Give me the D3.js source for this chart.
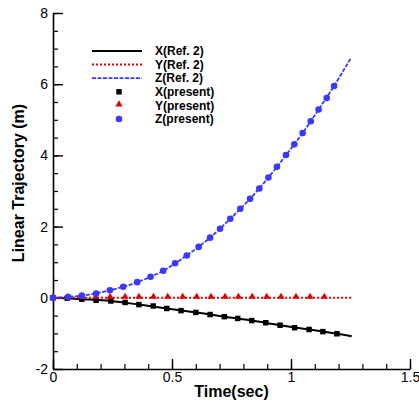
<!DOCTYPE html>
<html>
<head>
<meta charset="utf-8">
<script src="https://cdn.jsdelivr.net/npm/d3@7"></script>
<style>
  body { margin: 0; background: #fff; }
  svg { display: block; font-family: "Liberation Sans", Arial, sans-serif; }
</style>
</head>
<body>
<div id="chart"></div>
<script>
// tick values / labels
const xTicks = [0, 0.5, 1, 1.5];
const xTickLabels = ["0", "0.5", "1", "1.5"];
const yTicks = [-2, 0, 2, 4, 6, 8];
const yTickLabels = ["-2", "0", "2", "4", "6", "8"];

// Ref. 2 curves
const xRefT = [0, 0.121, 0.243, 0.361, 0.478, 0.600, 0.720, 0.835, 0.954, 1.076, 1.193, 1.255];
const xRefV = [0, -0.04, -0.09, -0.19, -0.30, -0.41, -0.53, -0.64, -0.77, -0.89, -1.01, -1.08];
const yRefT = [0, 0.6, 1.255];
const yRefV = [0, 0, 0];
const zRefT = [0, 0.121, 0.239, 0.354, 0.463, 0.562, 0.660, 0.745, 0.828, 0.905, 0.979, 1.049, 1.116, 1.181, 1.252];
const zRefV = [0, 0.06, 0.21, 0.44, 0.76, 1.19, 1.69, 2.22, 2.78, 3.38, 4.01, 4.63, 5.29, 5.95, 6.74];

// present results (markers)
const xPresT = [0, 0.06, 0.121, 0.181, 0.243, 0.303, 0.361, 0.421, 0.478, 0.538, 0.600, 0.660, 0.720, 0.776, 0.835, 0.894, 0.954, 1.015, 1.076, 1.134, 1.193];
const xPresV = [0, -0.01, -0.04, -0.07, -0.09, -0.13, -0.19, -0.23, -0.30, -0.36, -0.41, -0.47, -0.53, -0.58, -0.64, -0.70, -0.77, -0.84, -0.89, -0.95, -1.01];
const yPresT = [0, 0.06, 0.12, 0.18, 0.24, 0.303, 0.361, 0.422, 0.482, 0.545, 0.604, 0.664, 0.723, 0.779, 0.837, 0.898, 0.958, 1.021, 1.080, 1.140];
const yPresV = [0, 0, 0, 0, 0, 0, 0, 0, 0, 0, 0, 0, 0, 0, 0, 0, 0, 0, 0, 0];
const zPresT = [0, 0.064, 0.121, 0.181, 0.239, 0.295, 0.354, 0.410, 0.463, 0.513, 0.562, 0.612, 0.660, 0.702, 0.745, 0.787, 0.828, 0.867, 0.905, 0.941, 0.979, 1.014, 1.049, 1.083, 1.116, 1.150, 1.181];
const zPresV = [0, 0.02, 0.06, 0.12, 0.21, 0.31, 0.44, 0.59, 0.76, 0.97, 1.19, 1.43, 1.69, 1.94, 2.22, 2.50, 2.78, 3.07, 3.38, 3.68, 4.01, 4.31, 4.63, 4.96, 5.29, 5.61, 5.95];

const legendNames = ["X(Ref. 2)", "Y(Ref. 2)", "Z(Ref. 2)", "X(present)", "Y(present)", "Z(present)"];

const width = 419, height = 404;
const margin = {top: 13, right: 9, bottom: 35, left: 53};

const RED = "#e00000", BLUE = "#3838ff";

const svg = d3.select("#chart").append("svg")
    .attr("width", width)
    .attr("height", height);

const x = d3.scaleLinear().domain([0, 1.5]).range([margin.left, width - margin.right]);
const y = d3.scaleLinear().domain([-2, 8]).range([height - margin.bottom, margin.top]);

// minor ticks
svg.append("g")
    .attr("transform", "translate(0," + y(-2) + ")")
    .call(d3.axisBottom(x).tickValues(d3.range(0, 1.5001, 0.1)).tickSize(-5).tickFormat(""))
    .call(g => g.select(".domain").remove())
    .selectAll("line").attr("stroke-width", 1.2);
svg.append("g")
    .attr("transform", "translate(" + x(0) + ",0)")
    .call(d3.axisLeft(y).tickValues(d3.range(-2, 8.001, 0.5)).tickSize(-5).tickFormat(""))
    .call(g => g.select(".domain").remove())
    .selectAll("line").attr("stroke-width", 1.2);

// major axes
const xAxis = svg.append("g")
    .attr("transform", "translate(0," + y(-2) + ")")
    .call(d3.axisBottom(x).tickValues(xTicks).tickSize(-10).tickSizeOuter(0).tickPadding(3)
        .tickFormat((d, i) => xTickLabels[i]));
const yAxis = svg.append("g")
    .attr("transform", "translate(" + x(0) + ",0)")
    .call(d3.axisLeft(y).tickValues(yTicks).tickSize(-10).tickSizeOuter(0).tickPadding(5)
        .tickFormat((d, i) => yTickLabels[i]));

[xAxis, yAxis].forEach(a => {
    a.select(".domain").attr("stroke-width", 1.6);
    a.selectAll(".tick line").attr("stroke-width", 1.4);
    a.selectAll("text").attr("font-size", 14).attr("fill", "#000")
        .attr("font-family", "'Liberation Sans', Arial, sans-serif");
});

// axis titles
svg.append("text")
    .attr("x", (x(0) + x(1.5)) / 2)
    .attr("y", 397)
    .attr("text-anchor", "middle")
    .attr("font-size", 16)
    .attr("font-weight", "bold")
    .text("Time(sec)");
svg.append("text")
    .attr("transform", "translate(24," + (y(3) - 8) + ") rotate(-90)")
    .attr("text-anchor", "middle")
    .attr("font-size", 16)
    .attr("font-weight", "bold")
    .text("Linear Trajectory (m)");

// lines
const line = d3.line()
    .x(d => x(d[0]))
    .y(d => y(d[1]))
    .curve(d3.curveCatmullRom);

const zip = (a, b) => a.map((v, i) => [v, b[i]]);

const plot = svg.append("g");

plot.append("path")
    .datum(zip(xRefT, xRefV))
    .attr("d", line)
    .attr("fill", "none")
    .attr("stroke", "#000")
    .attr("stroke-width", 2);
plot.append("path")
    .datum(zip(yRefT, yRefV))
    .attr("d", line)
    .attr("fill", "none")
    .attr("stroke", RED)
    .attr("stroke-width", 2)
    .attr("stroke-dasharray", "2,2");
plot.append("path")
    .datum(zip(zRefT, zRefV))
    .attr("d", line)
    .attr("fill", "none")
    .attr("stroke", BLUE)
    .attr("stroke-width", 1.8)
    .attr("stroke-dasharray", "4,1.5");

// markers
const sq = d3.symbol().type(d3.symbolSquare).size(30);
const tri = d3.symbol().type(d3.symbolTriangle).size(22);

plot.append("g").selectAll("path")
    .data(zip(xPresT, xPresV))
    .join("path")
    .attr("d", sq)
    .attr("transform", d => "translate(" + x(d[0]) + "," + y(d[1]) + ")")
    .attr("fill", "#000");
plot.append("g").selectAll("path")
    .data(zip(yPresT, yPresV))
    .join("path")
    .attr("d", tri)
    .attr("transform", d => "translate(" + x(d[0]) + "," + (y(d[1]) - 1) + ")")
    .attr("fill", RED);
plot.append("g").selectAll("circle")
    .data(zip(zPresT, zPresV))
    .join("circle")
    .attr("cx", d => x(d[0]))
    .attr("cy", d => y(d[1]))
    .attr("r", 3.3)
    .attr("fill", BLUE);

// legend
const legend = svg.append("g").attr("transform", "translate(92,51)");
const rowH = 13.6;
const lineStyles = [
    {stroke: "#000", dash: null, w: 2},
    {stroke: RED, dash: "2,2", w: 2},
    {stroke: BLUE, dash: "4,1.5", w: 1.8}
];
lineStyles.forEach((s, i) => {
    legend.append("line")
        .attr("x1", 0).attr("x2", 50)
        .attr("y1", i * rowH).attr("y2", i * rowH)
        .attr("stroke", s.stroke)
        .attr("stroke-width", s.w)
        .attr("stroke-dasharray", s.dash);
});
legend.append("path").attr("d", sq).attr("transform", "translate(27," + 3 * rowH + ")").attr("fill", "#000");
legend.append("path").attr("d", tri).attr("transform", "translate(27," + (4 * rowH - 1) + ")").attr("fill", RED);
legend.append("circle").attr("cx", 27).attr("cy", 5 * rowH).attr("r", 3.3).attr("fill", BLUE);

legend.selectAll("text.lbl")
    .data(legendNames)
    .join("text")
    .attr("class", "lbl")
    .attr("x", 63)
    .attr("y", (d, i) => i * rowH)
    .attr("dy", "0.35em")
    .attr("font-size", 12)
    .attr("font-weight", "bold")
    .text(d => d);
</script>
</body>
</html>
